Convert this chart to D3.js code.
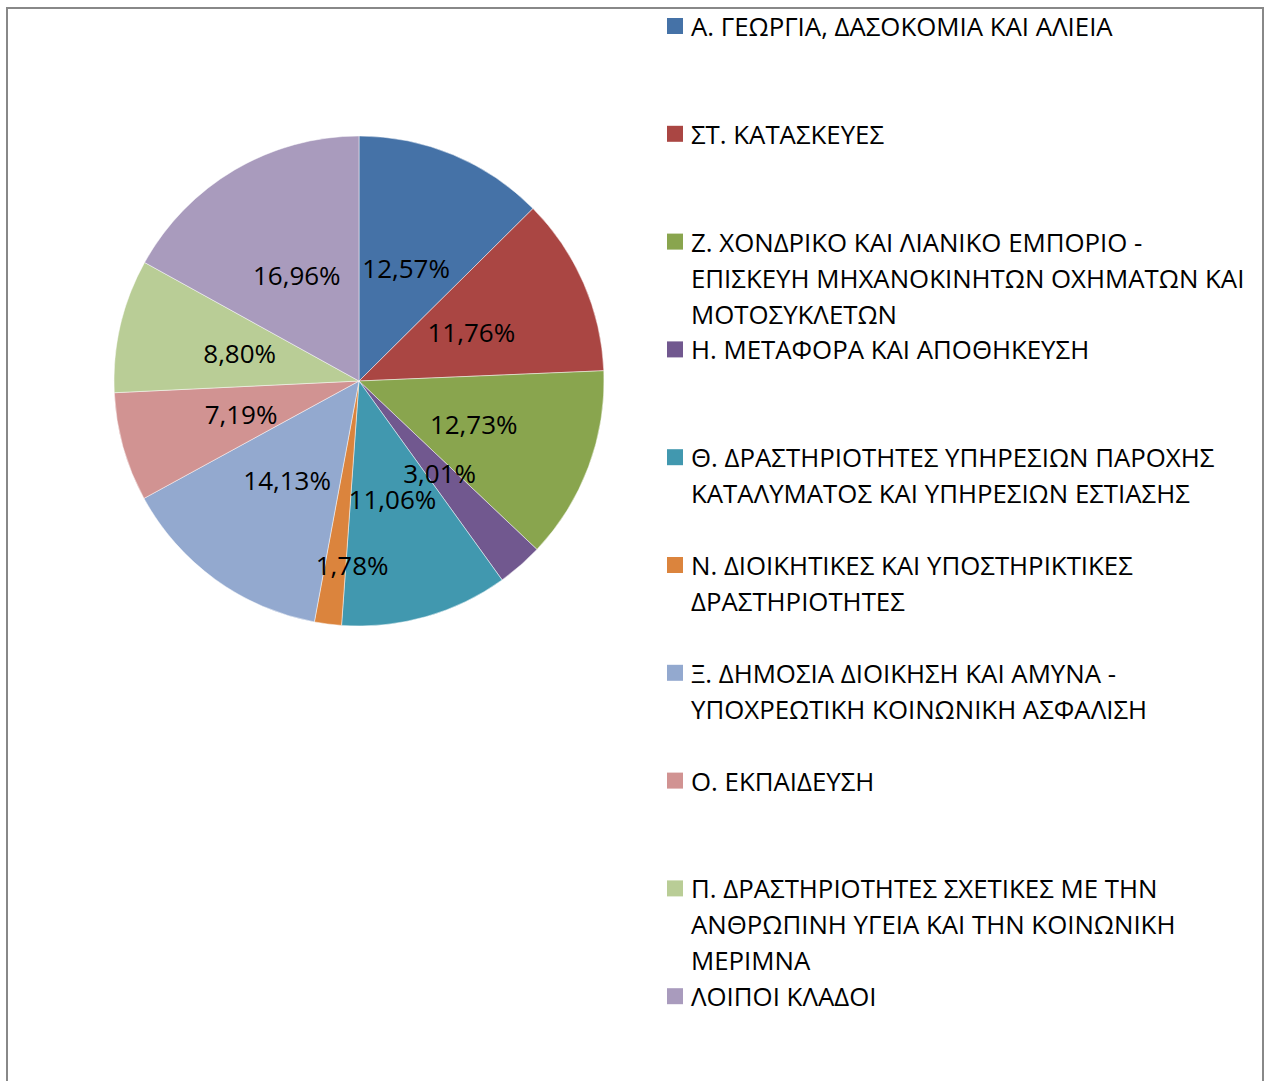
<!DOCTYPE html>
<html><head><meta charset="utf-8">
<script src="https://cdn.jsdelivr.net/npm/d3@7"></script>
<style>html,body{margin:0;padding:0;background:#fff;}svg{display:block;}</style>
</head><body>
<svg id="chart" width="1270" height="1081"></svg>
<script>
const categories = [
  "Α. ΓΕΩΡΓΙΑ, ΔΑΣΟΚΟΜΙΑ ΚΑΙ ΑΛΙΕΙΑ",
  "ΣΤ. ΚΑΤΑΣΚΕΥΕΣ",
  "Ζ. ΧΟΝΔΡΙΚΟ ΚΑΙ ΛΙΑΝΙΚΟ ΕΜΠΟΡΙΟ - ΕΠΙΣΚΕΥΗ ΜΗΧΑΝΟΚΙΝΗΤΩΝ ΟΧΗΜΑΤΩΝ ΚΑΙ ΜΟΤΟΣΥΚΛΕΤΩΝ",
  "Η. ΜΕΤΑΦΟΡΑ ΚΑΙ ΑΠΟΘΗΚΕΥΣΗ",
  "Θ. ΔΡΑΣΤΗΡΙΟΤΗΤΕΣ ΥΠΗΡΕΣΙΩΝ ΠΑΡΟΧΗΣ ΚΑΤΑΛΥΜΑΤΟΣ ΚΑΙ ΥΠΗΡΕΣΙΩΝ ΕΣΤΙΑΣΗΣ",
  "Ν. ΔΙΟΙΚΗΤΙΚΕΣ ΚΑΙ ΥΠΟΣΤΗΡΙΚΤΙΚΕΣ ΔΡΑΣΤΗΡΙΟΤΗΤΕΣ",
  "Ξ. ΔΗΜΟΣΙΑ ΔΙΟΙΚΗΣΗ ΚΑΙ ΑΜΥΝΑ - ΥΠΟΧΡΕΩΤΙΚΗ ΚΟΙΝΩΝΙΚΗ ΑΣΦΑΛΙΣΗ",
  "Ο. ΕΚΠΑΙΔΕΥΣΗ",
  "Π. ΔΡΑΣΤΗΡΙΟΤΗΤΕΣ ΣΧΕΤΙΚΕΣ ΜΕ ΤΗΝ ΑΝΘΡΩΠΙΝΗ ΥΓΕΙΑ ΚΑΙ ΤΗΝ ΚΟΙΝΩΝΙΚΗ ΜΕΡΙΜΝΑ",
  "ΛΟΙΠΟΙ ΚΛΑΔΟΙ"
];
const legendLines = [
  ["Α. ΓΕΩΡΓΙΑ, ΔΑΣΟΚΟΜΙΑ ΚΑΙ ΑΛΙΕΙΑ"],
  ["ΣΤ. ΚΑΤΑΣΚΕΥΕΣ"],
  ["Ζ. ΧΟΝΔΡΙΚΟ ΚΑΙ ΛΙΑΝΙΚΟ ΕΜΠΟΡΙΟ -", "ΕΠΙΣΚΕΥΗ ΜΗΧΑΝΟΚΙΝΗΤΩΝ ΟΧΗΜΑΤΩΝ ΚΑΙ", "ΜΟΤΟΣΥΚΛΕΤΩΝ"],
  ["Η. ΜΕΤΑΦΟΡΑ ΚΑΙ ΑΠΟΘΗΚΕΥΣΗ"],
  ["Θ. ΔΡΑΣΤΗΡΙΟΤΗΤΕΣ ΥΠΗΡΕΣΙΩΝ ΠΑΡΟΧΗΣ", "ΚΑΤΑΛΥΜΑΤΟΣ ΚΑΙ ΥΠΗΡΕΣΙΩΝ ΕΣΤΙΑΣΗΣ"],
  ["Ν. ΔΙΟΙΚΗΤΙΚΕΣ ΚΑΙ ΥΠΟΣΤΗΡΙΚΤΙΚΕΣ", "ΔΡΑΣΤΗΡΙΟΤΗΤΕΣ"],
  ["Ξ. ΔΗΜΟΣΙΑ ΔΙΟΙΚΗΣΗ ΚΑΙ ΑΜΥΝΑ -", "ΥΠΟΧΡΕΩΤΙΚΗ ΚΟΙΝΩΝΙΚΗ ΑΣΦΑΛΙΣΗ"],
  ["Ο. ΕΚΠΑΙΔΕΥΣΗ"],
  ["Π. ΔΡΑΣΤΗΡΙΟΤΗΤΕΣ ΣΧΕΤΙΚΕΣ ΜΕ ΤΗΝ", "ΑΝΘΡΩΠΙΝΗ ΥΓΕΙΑ ΚΑΙ ΤΗΝ ΚΟΙΝΩΝΙΚΗ", "ΜΕΡΙΜΝΑ"],
  ["ΛΟΙΠΟΙ ΚΛΑΔΟΙ"]
];
const values = [12.57, 11.76, 12.73, 3.01, 11.06, 1.78, 14.13, 7.19, 8.80, 16.96];
const colors = ["#4572A7", "#AA4643", "#89A54E", "#71588F", "#4198AF", "#DB843D", "#93A9CF", "#D19392", "#B9CD96", "#A99BBD"];

const svg = d3.select("#chart");
const font = "'Open Sans', 'Noto Sans', sans-serif";

// frame
svg.append("rect").attr("x", 7).attr("y", 8).attr("width", 1256).attr("height", 1100)
  .attr("fill", "#fff").attr("stroke", "#888").attr("stroke-width", 2);

const cx = 359, cy = 381, R = 245;
const g = svg.append("g").attr("transform", `translate(${cx},${cy})`);
const pie = d3.pie().sort(null).value(d => d)(values);
const arc = d3.arc().innerRadius(0).outerRadius(R);
g.selectAll("path").data(pie).join("path")
  .attr("d", arc)
  .attr("fill", (d, i) => colors[i])
  .attr("stroke", "rgba(255,255,255,0.6)")
  .attr("stroke-width", 0.8);

const fmt = v => v.toFixed(2).replace(".", ",") + "%";
const labelRadius = (d, i) => (i === 5 ? 0.75 : 0.5) * R;
g.selectAll("text.lbl").data(pie).join("text")
  .attr("class", "lbl")
  .attr("transform", (d, i) => {
    const a = (d.startAngle + d.endAngle) / 2 - (i === 5 ? 0.09 : 0);
    const r = labelRadius(d, i);
    return `translate(${Math.sin(a) * r},${-Math.cos(a) * r})`;
  })
  .attr("text-anchor", "middle")
  .attr("dominant-baseline", "central")
  .attr("font-family", font)
  .attr("font-size", 26)
  .attr("fill", "#000")
  .text(d => fmt(d.value));

// legend
const lx = 667, ly0 = 26, slot = 107.8, lh = 36;
const leg = svg.append("g");
legendLines.forEach((lines, i) => {
  const y = ly0 + i * slot;
  leg.append("rect").attr("x", lx).attr("y", y - 8).attr("width", 16).attr("height", 16).attr("fill", colors[i]);
  lines.forEach((t, j) => {
    leg.append("text").attr("x", 691).attr("y", y + j * lh)
      .attr("dominant-baseline", "central")
      .attr("font-family", font).attr("font-size", 25.8).attr("fill", "#000")
      .text(t);
  });
});
</script>
</body></html>
